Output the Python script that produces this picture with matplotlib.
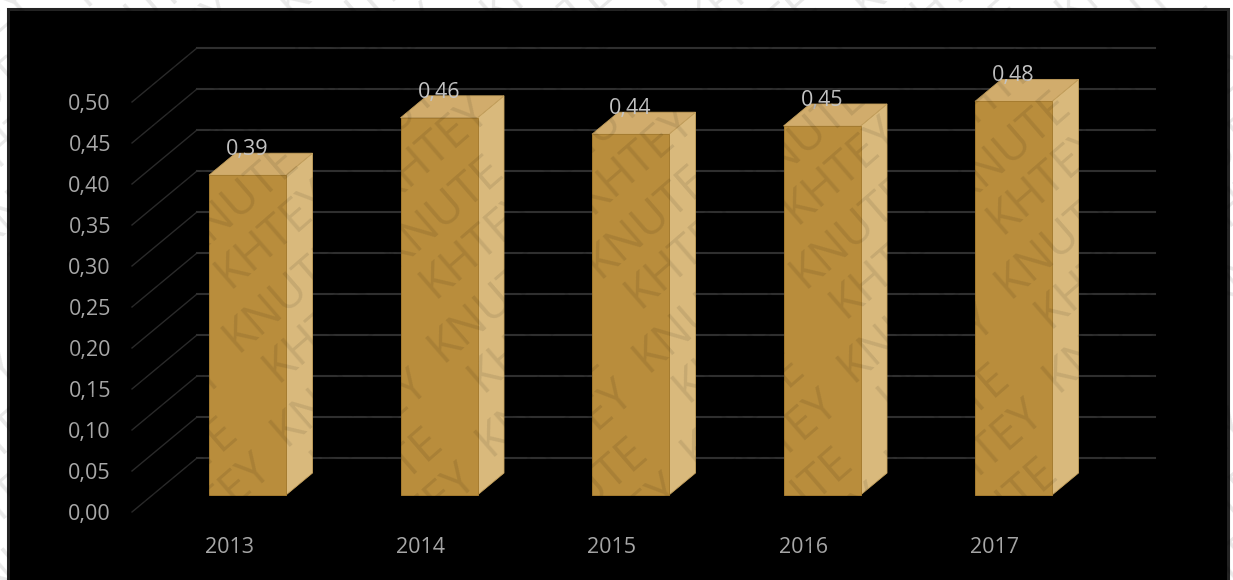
import matplotlib
matplotlib.use('Agg')
import matplotlib.pyplot as plt
from matplotlib.patches import Polygon, Rectangle

plt.rcParams['font.family'] = ['Open Sans', 'DejaVu Sans']

years = ['2013', '2014', '2015', '2016', '2017']
values = [0.39, 0.46, 0.44, 0.45, 0.48]
ticks = [0.00, 0.05, 0.10, 0.15, 0.20, 0.25, 0.30, 0.35, 0.40, 0.45, 0.50]
stamp_words = ['KHTEY', 'KNUTE']

W, H = 1233, 580
PX_PER_UNIT = 820.0   # pixels per 1.0 on the value axis
Y0_PX = 512.0
PX_PER_CAT = 191.5
X0_PX = 247.5

FRONT = '#b98d3c'
SIDE = '#d9b97c'
TOP = '#d1ac6c'
GRID = '#2f2f2f'
TEXT = '#a8a8a8'


# helpers for offsets given in pixels
def dx(px):
    return px / PX_PER_CAT


def dy(px):
    return px / PX_PER_UNIT


def to_xy(px, py):
    return (px - X0_PX) / PX_PER_CAT, (Y0_PX - py) / PX_PER_UNIT


fig = plt.figure(figsize=(W / 100, H / 100), dpi=100, facecolor='white')
ax = fig.add_axes([0, 0, 1, 1])
ax.set_xlim(to_xy(0, 0)[0], to_xy(W, 0)[0])
ax.set_ylim(to_xy(0, H)[1], to_xy(0, 0)[1])
ax.axis('off')

# black plate with a dark rim, running off the bottom of the sheet
x0, y0 = to_xy(8, 590)
x1, y1 = to_xy(1228, 8.5)
ax.add_patch(Rectangle((x0, y0), x1 - x0, y1 - y0, fc='black', ec='#232323', lw=2.2, zorder=1))

# 3d walls: the back gridline and its diagonal to the front plane
wall_l = to_xy(132, 0)[0]
wall_b = to_xy(197, 0)[0]
wall_r = to_xy(1155, 0)[0]
for t in ticks:
    ax.plot([wall_l, wall_b], [t, t + dy(54)], color='#2a2a2a', lw=1.0, zorder=2)
    ax.plot([wall_b, wall_r], [t + dy(54), t + dy(54)], color=GRID, lw=1.5, zorder=2)
    ax.text(to_xy(111, 0)[0], t, f'{t:.2f}'.replace('.', ','), color=TEXT, fontsize=15.5,
            ha='right', va='center_baseline', zorder=6)

# bars: the floor of each one sits a little behind the front plane
half = dx(38.5)
depth_x = dx(26.5)
depth_y = dy(22)
base = dy(17)
for i, (year, v) in enumerate(zip(years, values)):
    top = base + v
    ax.add_patch(Polygon([(i + half, base), (i + half + depth_x, base + depth_y),
                          (i + half + depth_x, top + depth_y), (i + half, top)],
                         fc=SIDE, ec='#c9a45e', lw=0.6, zorder=3))
    ax.add_patch(Polygon([(i - half, top), (i + half, top),
                          (i + half + depth_x, top + depth_y), (i - half + depth_x, top + depth_y)],
                         fc=TOP, ec='#c39f5c', lw=0.6, zorder=3))
    ax.bar(i, v, width=2 * half, bottom=base, color=FRONT, edgecolor='#a67c30', lw=0.7, zorder=4)
    ax.text(i, top + depth_y + dy(6), f'{v:.2f}'.replace('.', ','), color='#c4c4c4', fontsize=15.5,
            ha='center', va='center_baseline', zorder=6)
    ax.text(i - dx(18.5), to_xy(0, 545)[1], year, color=TEXT, fontsize=15.5,
            ha='center', va='center_baseline', zorder=6)

# diagonal stamp repeated over the whole sheet, two interleaved word lattices
for word, off_x, off_y in [(stamp_words[0], 0, 0), (stamp_words[1], 8, 64)]:
    for m in range(-6, 14):
        for k in range(-10, 12):
            sx = 222 + off_x + m * 205 + k * 157
            sy = 280 + off_y + m * 10 - k * 84
            if -170 < sx < W + 10 and -10 < sy < H + 130:
                sx_d, sy_d = to_xy(sx, sy)
                ax.text(sx_d, sy_d, word, color='black', alpha=0.09, fontsize=33,
                        rotation=41, rotation_mode='anchor', ha='left', va='center',
                        zorder=7, clip_on=True)

fig.savefig('out.png', dpi=100, facecolor='white')
